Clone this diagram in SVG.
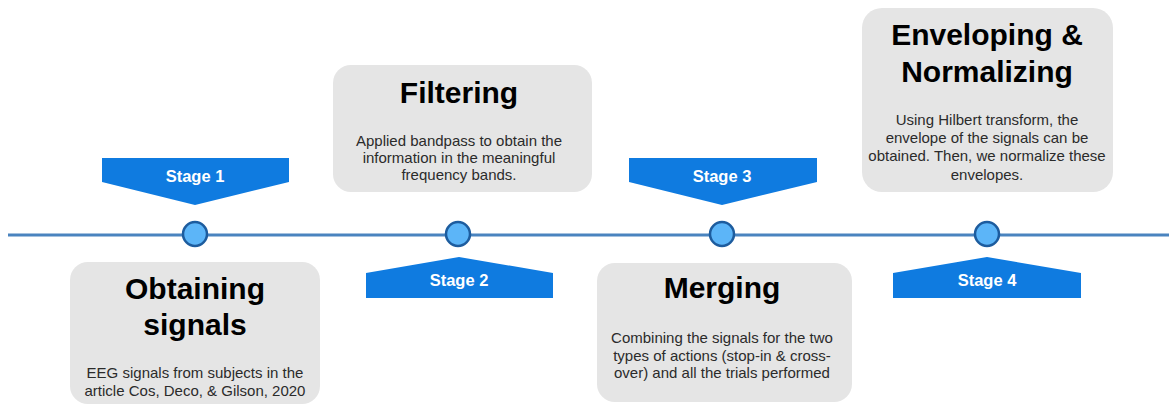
<svg xmlns="http://www.w3.org/2000/svg" width="1169" height="408" viewBox="0 0 1169 408">
  <style>
    .card { fill: #e5e5e5; }
    .title { font-family: "Liberation Sans", Arial, sans-serif; font-size: 30px; font-weight: bold; fill: #000; text-anchor: middle; }
    .desc { font-family: "Liberation Sans", Arial, sans-serif; font-size: 15px; fill: #2b2b2b; text-anchor: middle; }
    .tag { fill: #0f7be0; }
    .tagtext { font-family: "Liberation Sans", Arial, sans-serif; font-size: 16.5px; font-weight: bold; fill: #fff; text-anchor: middle; }
    .dot { fill: #5cb5f8; stroke: #1d5c9e; stroke-width: 2.5; }
  </style>
  <rect width="1169" height="408" fill="#fff"/>

  <!-- timeline axis and stage markers -->
  <g id="connectors">
    <line x1="8" y1="235" x2="1169" y2="235" stroke="#4a84bf" stroke-width="3"/>
    <circle class="dot" cx="195" cy="234" r="12"/>
    <circle class="dot" cx="458" cy="234" r="12"/>
    <circle class="dot" cx="722" cy="234" r="12"/>
    <circle class="dot" cx="987" cy="234" r="12"/>
  </g>

  <!-- stage 1 -->
  <g id="stage1">
    <polygon class="tag" points="102,158 289,158 289,182 195,205 102,182"/>
    <text class="tagtext" x="195" y="182">Stage 1</text>
  </g>
  <g id="obtaining">
    <rect class="card" x="70" y="262" width="250" height="142" rx="18"/>
    <text class="title" x="195" y="299">Obtaining</text>
    <text class="title" x="195" y="335">signals</text>
    <text class="desc" x="195" y="378">EEG signals from subjects in the</text>
    <text class="desc" x="195" y="396">article Cos, Deco, &amp; Gilson, 2020</text>
  </g>

  <!-- stage 2 -->
  <g id="stage2">
    <polygon class="tag" points="366,273 459,257 553,273 553,298 366,298"/>
    <text class="tagtext" x="459" y="286">Stage 2</text>
  </g>
  <g id="filtering">
    <rect class="card" x="333" y="65" width="259" height="127" rx="18"/>
    <text class="title" x="459" y="103">Filtering</text>
    <text class="desc" x="459" y="146">Applied bandpass to obtain the</text>
    <text class="desc" x="459" y="163">information in the meaningful</text>
    <text class="desc" x="459" y="180">frequency bands.</text>
  </g>

  <!-- stage 3 -->
  <g id="stage3">
    <polygon class="tag" points="629,158 817,158 817,182 722,205 629,182"/>
    <text class="tagtext" x="722" y="182">Stage 3</text>
  </g>
  <g id="merging">
    <rect class="card" x="597" y="263" width="255" height="139" rx="18"/>
    <text class="title" x="722" y="298">Merging</text>
    <text class="desc" x="722" y="343">Combining the signals for the two</text>
    <text class="desc" x="722" y="361">types of actions (stop-in &amp; cross-</text>
    <text class="desc" x="722" y="378">over) and all the trials performed</text>
  </g>

  <!-- stage 4 -->
  <g id="stage4">
    <polygon class="tag" points="893,273 987,257 1081,273 1081,298 893,298"/>
    <text class="tagtext" x="987" y="286">Stage 4</text>
  </g>
  <g id="enveloping">
    <rect class="card" x="862" y="8" width="251" height="184" rx="20"/>
    <text class="title" x="987" y="45">Enveloping &amp;</text>
    <text class="title" x="987" y="82">Normalizing</text>
    <text class="desc" x="987" y="125">Using Hilbert transform, the</text>
    <text class="desc" x="987" y="143">envelope of the signals can be</text>
    <text class="desc" x="987" y="161">obtained. Then, we normalize these</text>
    <text class="desc" x="987" y="180">envelopes.</text>
  </g>
</svg>
